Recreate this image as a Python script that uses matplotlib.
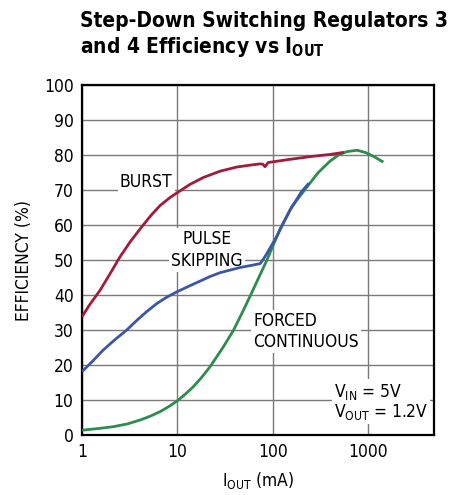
import matplotlib
matplotlib.use("Agg")
import matplotlib.pyplot as plt
from matplotlib.ticker import FixedLocator, NullLocator

plt.rcParams["font.family"] = ["DejaVu Sans"]
plt.rcParams["font.stretch"] = "condensed"
plt.rcParams["mathtext.fontset"] = "custom"
plt.rcParams["mathtext.rm"] = "DejaVu Sans:stretch=condensed"

# efficiency curves (I_OUT in mA, efficiency in %)
burst_i = [1, 1.2, 1.55, 2.0, 2.5, 3.2, 4.23, 5.3, 6.6, 8.4, 10.3, 13.5, 18.7, 28, 42, 60, 74, 79, 83, 90, 152, 250, 400, 560]
burst_eff = [33.8, 37.2, 41.4, 46.4, 50.9, 55.2, 59.5, 62.8, 65.6, 67.9, 69.5, 71.6, 73.6, 75.4, 76.6, 77.2, 77.5, 77.4, 76.7, 77.9, 78.8, 79.6, 80.2, 80.8]

pulse_i = [1, 1.3, 1.67, 2.2, 2.94, 3.8, 4.78, 6.1, 7.74, 10, 13.6, 17.3, 22, 28, 45.6, 60, 74, 80, 87, 110, 152, 200, 240]
pulse_eff = [18.1, 21.2, 24.3, 27.2, 30.0, 32.9, 35.3, 37.6, 39.4, 41.0, 42.7, 44.0, 45.3, 46.4, 47.9, 48.5, 49.0, 50.3, 51.9, 56.7, 64.3, 69.5, 72.0]

forced_i = [1, 1.5, 2.13, 3.0, 4.06, 5.2, 6.6, 8.2, 10, 12, 14.7, 18, 22, 30.4, 38.9, 50, 62, 87, 120, 160, 229, 300, 400, 500, 600, 770, 950, 1150, 1450]
forced_eff = [1.4, 1.9, 2.4, 3.2, 4.3, 5.4, 6.7, 8.2, 9.8, 11.6, 13.8, 16.5, 19.5, 25.2, 30.0, 36.0, 41.4, 50.0, 59.0, 65.4, 70.9, 75.0, 78.3, 80.2, 81.0, 81.4, 80.7, 79.6, 78.0]

x_ticks = [1, 10, 100, 1000]
y_ticks = list(range(0, 101, 10))


def main():
    fig = plt.figure(figsize=(4.63, 4.95), dpi=100)
    ax = fig.add_axes([0.177, 0.121, 0.76, 0.707])

    ax.set_xscale("log")
    ax.set_xlim(1, 4900)
    ax.set_ylim(0, 100)
    ax.xaxis.set_major_locator(FixedLocator(x_ticks))
    ax.xaxis.set_minor_locator(NullLocator())
    ax.set_xticklabels([str(t) for t in x_ticks])
    ax.set_yticks(y_ticks)
    ax.tick_params(length=0, labelsize=12.5, pad=6)
    ax.grid(True, color="#7a7a7a", linewidth=1.0)
    ax.set_axisbelow(True)
    for s in ax.spines.values():
        s.set_linewidth(1.6)

    lw = dict(linewidth=2.0, solid_joinstyle="round", solid_capstyle="butt")
    ax.plot(forced_i, forced_eff, color="#2e8b4e", zorder=3, **lw)
    ax.plot(pulse_i, pulse_eff, color="#3c56a6", zorder=4, **lw)
    ax.plot(burst_i, burst_eff, color="#a01c3a", zorder=5, **lw)

    box = dict(facecolor="white", edgecolor="none", pad=1.5)
    ax.text(2.5, 72.3, "BURST", fontsize=12.5, ha="left", va="center", bbox=box, zorder=2)
    ax.text(20.5, 52.9, "PULSE\nSKIPPING", fontsize=12.5, ha="center", va="center",
            linespacing=1.25, bbox=box, zorder=2)
    ax.text(63, 29.6, "FORCED\nCONTINUOUS", fontsize=12.5, ha="left", va="center",
            linespacing=1.2, bbox=box, zorder=2)
    ax.text(440, 9.6, "V$_{\\mathregular{IN}}$ = 5V\nV$_{\\mathregular{OUT}}$ = 1.2V", fontsize=12.5,
            ha="left", va="center", linespacing=1.0, bbox=box, zorder=2)

    ax.set_ylabel("EFFICIENCY (%)", fontsize=12.5, labelpad=8)
    ax.set_xlabel("I$_{\\mathregular{OUT}}$ (mA)", fontsize=12.5, labelpad=6)

    fig.text(0.173, 0.978, "Step-Down Switching Regulators 3\nand 4 Efficiency vs I$_{\\mathregular{OUT}}$",
             fontsize=15, fontweight="bold", ha="left", va="top", linespacing=1.25)

    fig.savefig("out.png", dpi=100)


if __name__ == "__main__":
    main()
